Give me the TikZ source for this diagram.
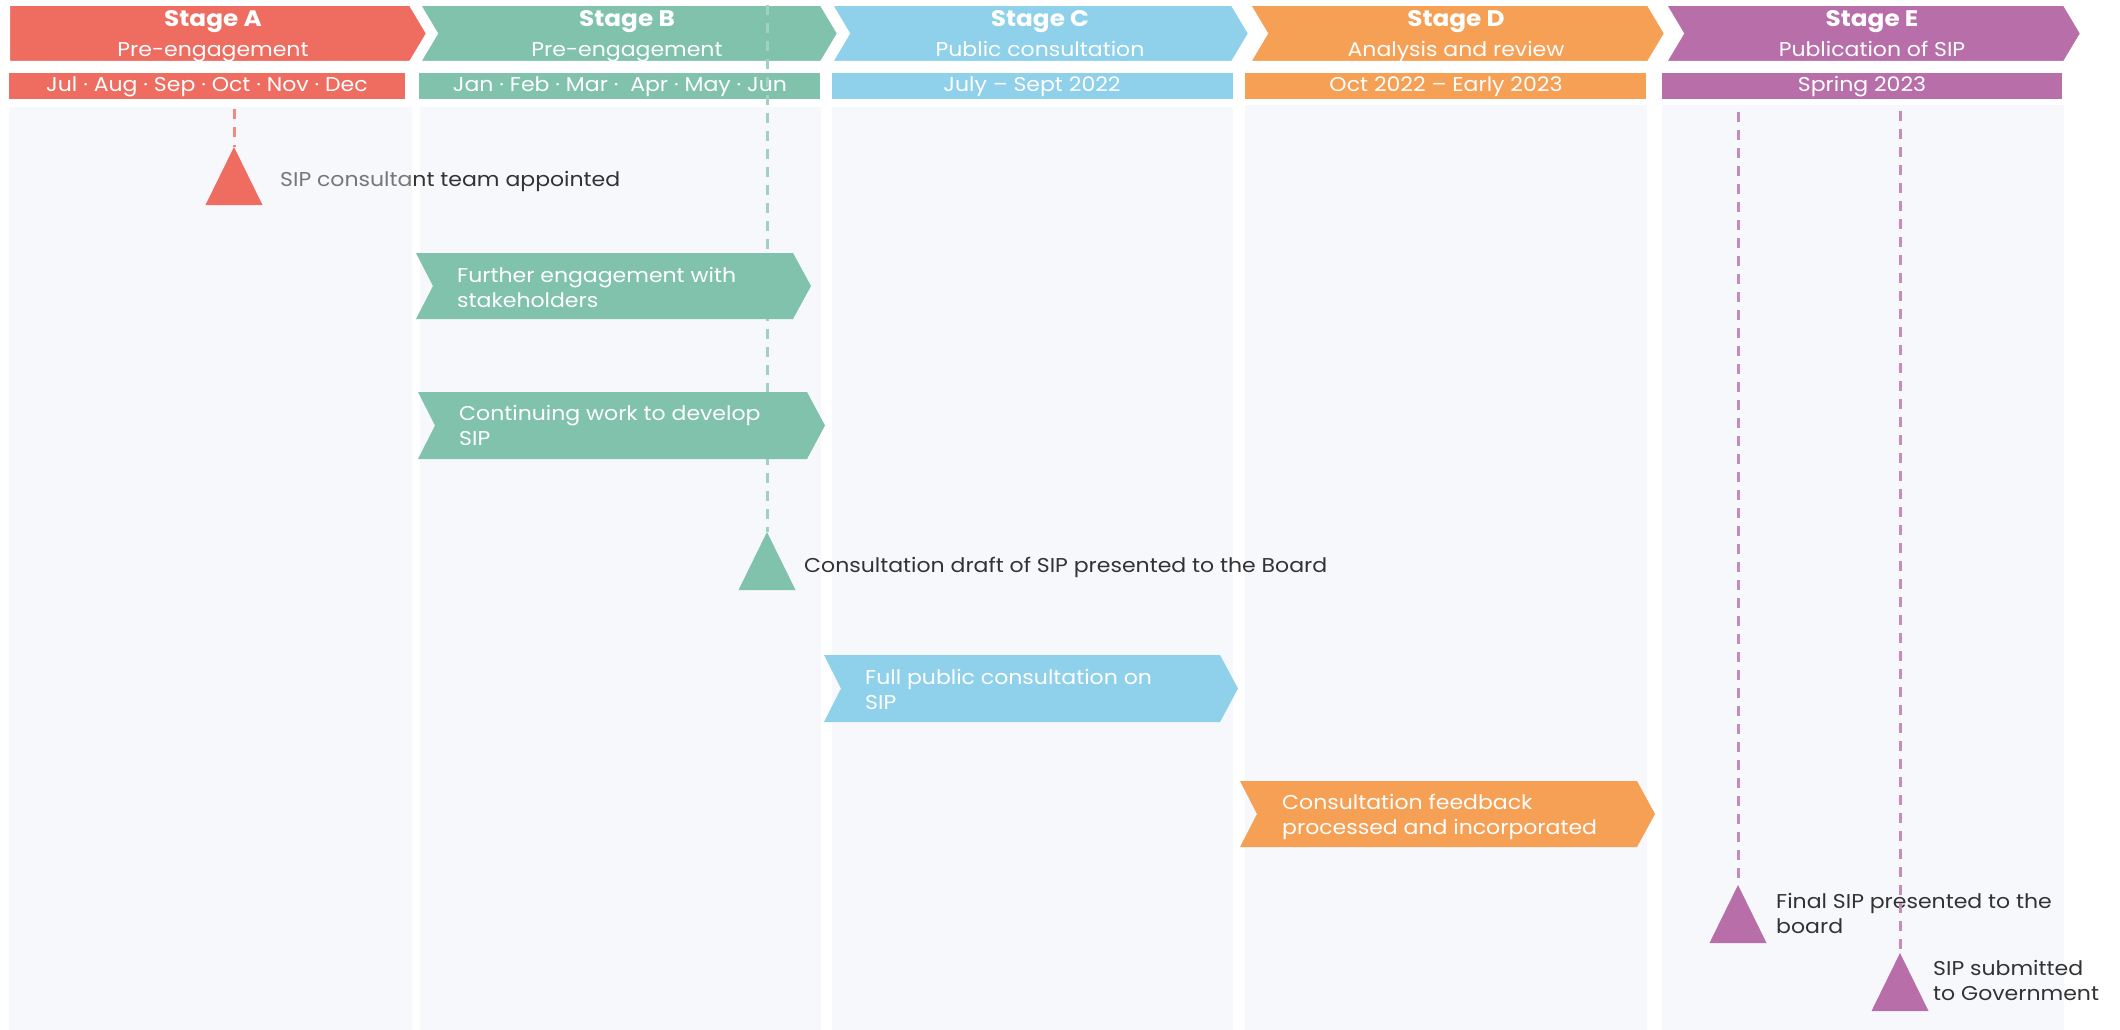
\documentclass[tikz,border=0pt]{standalone}
\usepackage{fontspec}
\setmainfont{Poppins}[FakeStretch=1.1]
\definecolor{stA}{RGB}{239,108,96}
\definecolor{stB}{RGB}{128,194,172}
\definecolor{stC}{RGB}{143,208,234}
\definecolor{stD}{RGB}{246,160,85}
\definecolor{stE}{RGB}{183,110,169}
\definecolor{panel}{RGB}{247,248,252}
\definecolor{txt}{RGB}{51,51,51}
\newcommand\chevA[3]{% x0, x1, colour (flat left)
  \fill[#3, draw=white, line width=2pt] (#1,5) -- (#2,5) -- ({#2+17},33.5) -- (#2,62) -- (#1,62) -- cycle;}
\newcommand\chevN[3]{% x0, x1, colour (notched left)
  \fill[#3, draw=white, line width=2pt] (#1,5) -- (#2,5) -- ({#2+17},33.5) -- (#2,62) -- (#1,62) -- ({#1+17},33.5) -- cycle;}
\newcommand\taskshape[5]{% left, right, top, bottom, colour
  \fill[#5] (#1,#3) -- (#2,#3) -- ({#2+18},{(#3+#4)/2}) -- (#2,#4) -- (#1,#4) -- ({#1+17},{(#3+#4)/2}) -- cycle;}
\newcommand\milestone[2]{% apex coordinate name, colour
  \fill[#2] (#1) -- ++(28.5,58) -- ++(-57,0) -- cycle;}
\begin{document}
\begin{tikzpicture}[x=1pt,y=-1pt,
  stagetitle/.style={text=white, inner sep=0pt, anchor=base, font=\fontsize{22.5}{26}\selectfont\bfseries},
  stagesub/.style={text=white, inner sep=0pt, anchor=base, font=\fontsize{20}{24}\selectfont},
  datetext/.style={text=white, inner sep=0pt, anchor=base, font=\fontsize{20}{24}\selectfont},
  tasktext/.style={text=white, inner sep=0pt, anchor=base west, align=left, font=\fontsize{20}{25}\selectfont},
  mslabel/.style={text=txt, inner sep=0pt, anchor=base west, align=left, font=\fontsize{20}{25}\selectfont},
  dashline/.style={line width=3pt, dash pattern=on 10pt off 8pt}]
\useasboundingbox (0,0) rectangle (2120,1030);
\fill[white] (0,0) rectangle (2120,1030);
% column panels
\fill[panel] (9,107) rectangle (412,1030);
\fill[panel] (420,107) rectangle (821,1030);
\fill[panel] (832,107) rectangle (1233,1030);
\fill[panel] (1245,105) rectangle (1647,1030);
\fill[panel] (1662,105) rectangle (2064,1030);
% date bars
\fill[stA] (9,73) rectangle (405,99);
\fill[stB] (419,73) rectangle (820,99);
\fill[stC] (832,73) rectangle (1233,99);
\fill[stD] (1245,73) rectangle (1646,99);
\fill[stE] (1662,73) rectangle (2062,99);
\node[datetext] (dA) at (207,92) {Jul · Aug · Sep · Oct · Nov · Dec};
\node[datetext] (dB) at (620,92) {Jan · Feb · Mar ·\ \ Apr · May · Jun};
\node[datetext] (dC) at (1032,92) {July – Sept 2022};
\node[datetext] (dD) at (1446,92) {Oct 2022 – Early 2023};
\node[datetext] (dE) at (1862,92) {Spring 2023};
% stage chevrons
\chevA{9}{410}{stA}
\chevN{420}{821}{stB}
\chevN{832}{1232}{stC}
\chevN{1250}{1648}{stD}
\chevN{1666}{2064}{stE}
\node[stagetitle] (tA) at (213,27) {Stage A};
\node[stagesub] (sA) at (213,57) {Pre-engagement};
\node[stagetitle] (tB) at (627,27) {Stage B};
\node[stagesub] (sB) at (627,57) {Pre-engagement};
\node[stagetitle] (tC) at (1040,27) {Stage C};
\node[stagesub] (sC) at (1040,57) {Public consultation};
\node[stagetitle] (tD) at (1456,27) {Stage D};
\node[stagesub] (sD) at (1456,57) {Analysis and review};
\node[stagetitle] (tE) at (1872,27) {Stage E};
\node[stagesub] (sE) at (1872,57) {Publication of SIP};
% milestone coordinates
\coordinate (mAtop) at (234,109);
\coordinate (mA) at (234,147);
\coordinate (mBtop) at (767,5);
\coordinate (mB) at (767,532);
\coordinate (mE1top) at (1738,112);
\coordinate (mE1) at (1738,885);
\coordinate (mE2top) at (1900,111);
\coordinate (mE2) at (1900,953);
% milestone labels (base = baseline of last line)
\node[mslabel] (lA) at (280,186) {SIP consultant team appointed};
\fill[panel, opacity=0.35] (9,150) rectangle (412,200);
\node[mslabel] (lB) at (804,572) {Consultation draft of SIP presented to the Board};
\node[mslabel] (lE1) at (1776,933) {Final SIP presented to the\\board};
\node[mslabel] (lE2) at (1933,1000) {SIP submitted\\to Government};
% dashed connectors
\draw[dashline, stA!80!white] (mAtop) -- (mA);
\draw[dashline, stB!75!white] (mBtop) -- (mB);
\draw[dashline, stE!80!white] (mE1top) -- (mE1);
\draw[dashline, stE!80!white] (mE2top) -- (mE2);
% task arrows
\taskshape{416}{793}{253}{319}{stB}
\node[tasktext] (k1) at (457,307) {Further engagement with\\stakeholders};
\taskshape{418}{807}{392}{459}{stB}
\node[tasktext] (k2) at (459,445) {Continuing work to develop\\SIP};
\taskshape{824}{1220}{655}{722}{stC}
\node[tasktext] (k3) at (865,709) {Full public consultation on\\SIP};
\taskshape{1240}{1637}{781}{847}{stD}
\node[tasktext] (k4) at (1282,834) {Consultation feedback\\processed and incorporated};
% milestone triangles
\milestone{mA}{stA}
\milestone{mB}{stB}
\milestone{mE1}{stE}
\milestone{mE2}{stE}
\end{tikzpicture}
\end{document}
